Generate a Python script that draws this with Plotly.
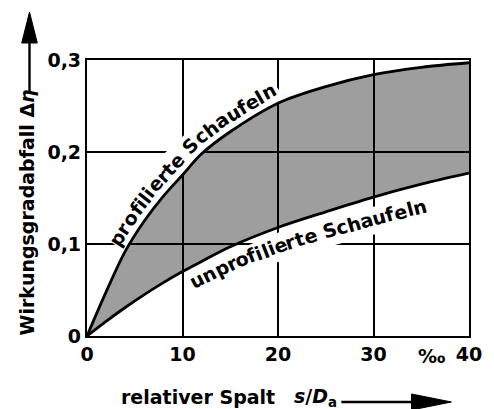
import math
import numpy as np
import plotly.graph_objects as go

# ---------------- data ----------------
x_vals = [0, 2, 4, 6, 8, 10, 12, 15, 20, 25, 30, 35, 40]
upper_vals = [0, 0.048, 0.092, 0.125, 0.152, 0.175, 0.198, 0.222, 0.253, 0.271, 0.284, 0.292, 0.297]
lower_vals = [0, 0.016, 0.031, 0.045, 0.058, 0.070, 0.081, 0.097, 0.118, 0.135, 0.151, 0.165, 0.177]

x_tickvals = [0, 10, 20, 30, 40]
x_ticktext = ["0", "10", "20", "30", "40"]
y_tickvals = [0, 0.1, 0.2, 0.3]
y_ticktext = ["0", "0,1", "0,2", "0,3"]

upper_label = "profilierte Schaufeln"
lower_label = "unprofilierte Schaufeln"
x_title = "relativer Spalt"
x_symbol = "<i>s</i>/<i>D</i><sub>a</sub>"
y_title = "Wirkungsgradabfall Δ<i>η</i>"
unit_label = "‰"

# ---------------- layout geometry ----------------
W, H = 494, 409
L, R, T, B = 87, 479, 60, 336
XMAX, YMAX = 40, 0.3
FONT = "DejaVu Sans"
FS = 19
TXT = dict(family=FONT, size=FS, color="black", weight="bold")


def to_px(x, y):
    return L + np.asarray(x) / XMAX * (R - L), B - np.asarray(y) / YMAX * (B - T)


def to_data(px, py):
    return (np.asarray(px) - L) / (R - L) * XMAX, (B - np.asarray(py)) / (B - T) * YMAX


def to_paper(px, py):
    return (px - L) / (R - L), (B - py) / (B - T)


CHAR_W = {"p": .716, "r": .493, "o": .687, "f": .435, "i": .343, "l": .343, "e": .678,
          "t": .478, " ": .348, "S": .72, "c": .593, "h": .712, "a": .675, "u": .712,
          "n": .712}


def curve_label(xs, ys, text, x0, x1, off0, off1, side):
    xd = np.linspace(x0, x1, 800)
    yd = np.interp(xd, xs, ys)
    px, py = to_px(xd, yd)
    s = np.concatenate([[0], np.cumsum(np.hypot(np.diff(px), np.diff(py)))])
    widths = np.array([CHAR_W.get(c, 0.6) for c in text])
    scale = s[-1] / widths.sum()
    centers = (np.cumsum(widths) - widths / 2) * scale
    anns = []

    def frame(sc):
        cx, cy = np.interp(sc, s, px), np.interp(sc, s, py)
        ax_, ay_ = np.interp(sc - 4, s, px), np.interp(sc - 4, s, py)
        bx_, by_ = np.interp(sc + 4, s, px), np.interp(sc + 4, s, py)
        tx, ty = bx_ - ax_, by_ - ay_
        n = math.hypot(tx, ty)
        tx, ty = tx / n, ty / n
        if side == "up":
            nx, ny = ty, -tx
        else:
            nx, ny = -ty, tx
        off = off0 + (off1 - off0) * sc / s[-1]
        return cx, cy, tx, ty, nx, ny, off

    for c, sc in zip(text, centers):
        if c == " ":
            continue
        cx, cy, tx, ty, nx, ny, off = frame(sc)
        qx, qy = cx + off * nx, cy + off * ny
        dx, dy = to_data(qx, qy)
        anns.append(dict(x=float(dx), y=float(dy), xref="x", yref="y", text=c,
                         textangle=math.degrees(math.atan2(ty, tx)), showarrow=False,
                         xanchor="center", yanchor="middle", font=TXT))
    # white halo path behind the text
    hx, hy = [], []
    for sc in np.linspace(0, s[-1], 80):
        cx, cy, tx, ty, nx, ny, off = frame(sc)
        dx, dy = to_data(cx + (off + 1) * nx, cy + (off + 1) * ny)
        hx.append(float(dx))
        hy.append(float(dy))
    return anns, hx, hy


up_anns, up_hx, up_hy = curve_label(x_vals, upper_vals, upper_label, 4.0, 20.4, 14, 15, "up")
lo_anns, lo_hx, lo_hy = curve_label(x_vals, lower_vals, lower_label, 10.2, 35.0, 14, 22, "down")

fig = go.Figure()
for hx, hy in ((up_hx, up_hy), (lo_hx, lo_hy)):
    fig.add_trace(go.Scatter(x=hx, y=hy, mode="lines", line=dict(color="white", width=27),
                             hoverinfo="skip", showlegend=False))
fig.add_trace(go.Scatter(x=x_vals, y=lower_vals, mode="lines",
                         line=dict(color="black", width=2.8, shape="spline"), showlegend=False))
fig.add_trace(go.Scatter(x=x_vals, y=upper_vals, mode="lines", fill="tonexty",
                         fillcolor="rgba(0,0,0,0.38)",
                         line=dict(color="black", width=2.8, shape="spline"), showlegend=False))

axis_common = dict(showgrid=True, gridcolor="black", gridwidth=1.6, showline=True,
                   linecolor="black", linewidth=2.2, mirror=True, zeroline=False, ticks="",
                   tickfont=TXT, fixedrange=True)

fig.update_layout(
    width=W, height=H, margin=dict(l=L, r=W - R, t=T, b=H - B),
    paper_bgcolor="white", plot_bgcolor="white", showlegend=False,
    xaxis=dict(range=[0, XMAX], tickvals=x_tickvals, ticktext=x_ticktext, **axis_common),
    yaxis=dict(range=[0, YMAX], tickvals=y_tickvals, ticktext=y_ticktext, **axis_common),
)

anns = up_anns + lo_anns
px_, py_ = to_paper(201, 397)
anns.append(dict(x=px_, y=py_, xref="paper", yref="paper", text=x_title, showarrow=False,
                 xanchor="center", yanchor="middle", font=TXT))
px_, py_ = to_paper(321, 397)
anns.append(dict(x=px_, y=py_, xref="paper", yref="paper", text=x_symbol, showarrow=False,
                 xanchor="center", yanchor="middle", font=TXT))
px_, py_ = to_paper(25, 212)
anns.append(dict(x=px_, y=py_, xref="paper", yref="paper", text=y_title, showarrow=False,
                 textangle=-90, xanchor="center", yanchor="middle", font=TXT))
px_, py_ = to_paper(441, 356)
anns.append(dict(x=px_, y=py_, xref="paper", yref="paper", text=unit_label, showarrow=False,
                 xanchor="center", yanchor="middle", font=TXT))
fig.update_layout(annotations=anns)

# axis-direction arrows
def pp(px, py):
    a, b = to_paper(px, py)
    return f"{a:.5f},{b:.5f}"

shapes = [
    dict(type="line", xref="paper", yref="paper", x0=to_paper(28, 92)[0], y0=to_paper(28, 92)[1],
         x1=to_paper(28, 40)[0], y1=to_paper(28, 40)[1], line=dict(color="black", width=2.4)),
    dict(type="path", xref="paper", yref="paper",
         path=f"M{pp(28, 12)} L{pp(20, 43)} L{pp(36, 43)} Z",
         fillcolor="black", line=dict(color="black", width=1)),
    dict(type="line", xref="paper", yref="paper", x0=to_paper(348, 402)[0], y0=to_paper(348, 402)[1],
         x1=to_paper(425, 402)[0], y1=to_paper(425, 402)[1], line=dict(color="black", width=2.4)),
    dict(type="path", xref="paper", yref="paper",
         path=f"M{pp(461, 402)} L{pp(420, 394)} L{pp(420, 410)} Z",
         fillcolor="black", line=dict(color="black", width=1)),
]
fig.update_layout(shapes=shapes)

fig.write_html("out.html")
